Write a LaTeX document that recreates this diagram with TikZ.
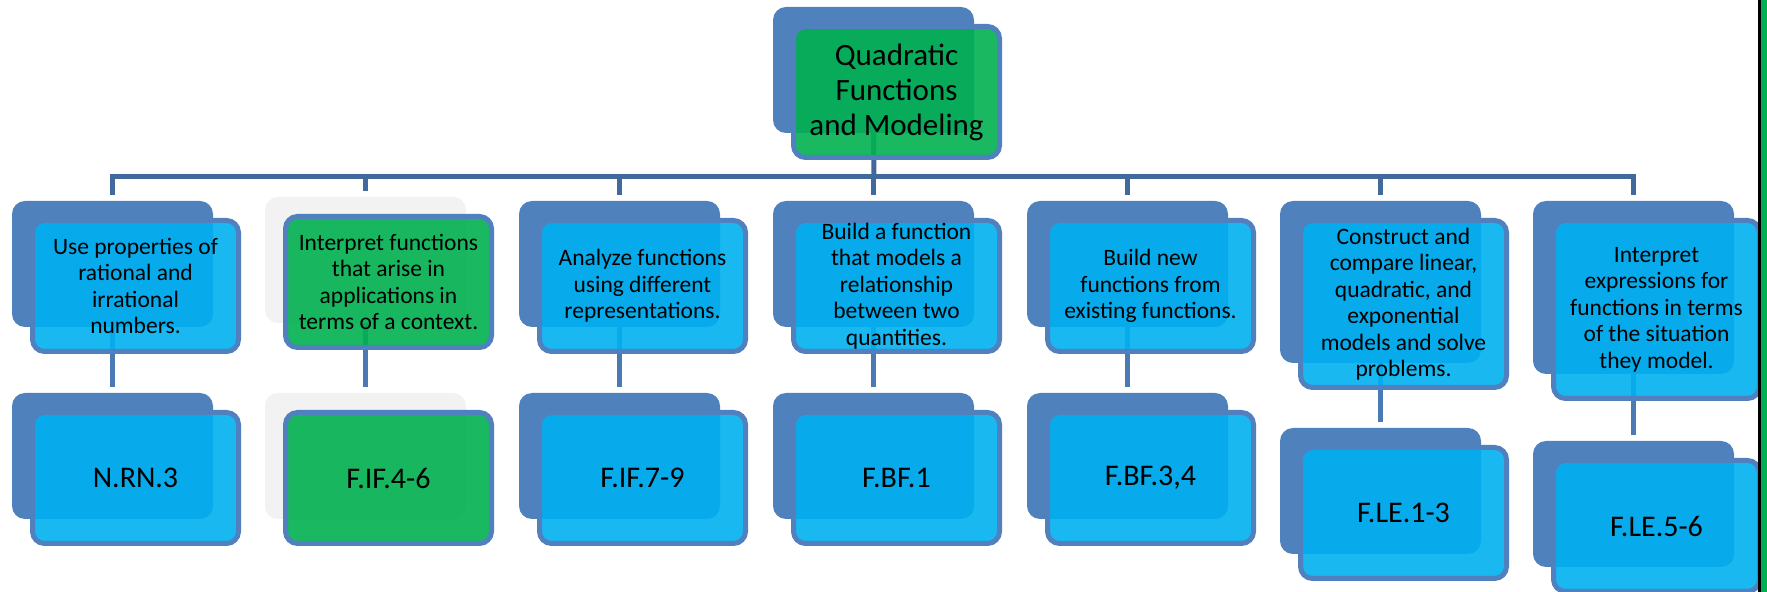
\documentclass[tikz,border=0pt]{standalone}
\usepackage{fontspec}
\setmainfont{Carlito}
\usetikzlibrary{positioning,backgrounds}

\definecolor{backblue}{HTML}{4F81BD}
\definecolor{cardblue}{HTML}{00B0F0}
\definecolor{cardgreen}{HTML}{00B050}
\definecolor{edgeblue}{HTML}{5080BE}
\definecolor{ghost}{HTML}{F2F2F2}
\definecolor{linkdark}{HTML}{41699C}
\definecolor{linklight}{HTML}{4A7AB5}

\tikzset{
  back/.style={fill=backblue, rounded corners=6.5pt, minimum width=100.5pt,
    minimum height=63pt, inner sep=0pt, outer sep=0pt, anchor=north west},
  ghostback/.style={back, fill=ghost},
  front/.style={fill=cardblue, fill opacity=0.9, text opacity=1, draw=edgeblue,
    line width=2.5pt, rounded corners=6pt, minimum width=103pt,
    minimum height=65.5pt, inner sep=0pt, align=center},
  greenfront/.style={front, fill=cardgreen},
  rowtext/.style={font=\fontsize{11.75}{13.25}\selectfont},
  codetext/.style={font=\fontsize{15}{17}\selectfont},
  titletext/.style={font=\fontsize{15.5}{17.5}\selectfont},
  link/.style={line width=2.5pt},
}

\begin{document}
\begin{tikzpicture}[x=0.5pt, y=-0.5pt]
\useasboundingbox (0,0) rectangle (1767,592);

% top card
\node[back] (top) at (773,7) {};
\node[greenfront, titletext, below right=8.5pt and 9pt of top.north west] (topf) {Quadratic\\Functions\\and Modeling};

% first row
\node[back] (c1) at (12,201) {};
\node[front, rowtext, below right=8.5pt and 9pt of c1.north west] (c1f) {Use properties of\\rational and\\irrational\\numbers.};
\node[ghostback] (c2) at (265,197) {};
\node[greenfront, rowtext, below right=8.5pt and 9pt of c2.north west] (c2f) {Interpret functions\\that arise in\\applications in\\terms of a context.};
\node[back] (c3) at (519,201) {};
\node[front, rowtext, below right=8.5pt and 9pt of c3.north west] (c3f) {Analyze functions\\using different\\representations.};
\node[back] (c4) at (773,201) {};
\node[front, rowtext, below right=8.5pt and 9pt of c4.north west] (c4f) {Build a function\\that models a\\relationship\\between two\\quantities.};
\node[back] (c5) at (1027,201) {};
\node[front, rowtext, below right=8.5pt and 9pt of c5.north west] (c5f) {Build new\\functions from\\existing functions.};
\node[back, minimum height=81pt] (c6) at (1280,201) {};
\node[front, rowtext, minimum height=83.5pt, below right=8.5pt and 9pt of c6.north west] (c6f) {Construct and\\compare linear,\\quadratic, and\\exponential\\models and solve\\problems.};
\node[back, minimum height=86.5pt] (c7) at (1533,201) {};
\node[front, rowtext, minimum height=89pt, below right=8.5pt and 9pt of c7.north west] (c7f) {Interpret\\expressions for\\functions in terms\\of the situation\\they model.};

% second row
\node[back] (g1) at (12,393) {};
\node[front, codetext, below right=8.5pt and 9pt of g1.north west] (g1f) {N.RN.3};
\node[ghostback] (g2) at (265,393) {};
\node[greenfront, codetext, below right=8.5pt and 9pt of g2.north west] (g2f) {F.IF.4-6};
\node[back] (g3) at (519,393) {};
\node[front, codetext, below right=8.5pt and 9pt of g3.north west] (g3f) {F.IF.7-9};
\node[back] (g4) at (773,393) {};
\node[front, codetext, below right=8.5pt and 9pt of g4.north west] (g4f) {F.BF.1};
\node[back] (g5) at (1027,393) {};
\node[front, codetext, below right=8.5pt and 9pt of g5.north west] (g5f) {F.BF.3,4};
\node[back] (g6) at (1280,428) {};
\node[front, codetext, below right=8.5pt and 9pt of g6.north west] (g6f) {F.LE.1-3};
\node[back] (g7) at (1533,441) {};
\node[front, codetext, below right=8.5pt and 9pt of g7.north west] (g7f) {F.LE.5-6};

% connectors, behind the cards
\begin{scope}[on background layer]
\coordinate (bus) at (874,177);
\draw[link, linkdark] (top.south) -- (bus);
\draw[link, linkdark, line cap=rect] (bus -| c1.north) -- (bus -| c7.north);
\draw[link, linkdark] (bus -| c1.north) -- ([yshift=3pt]c1.north);
\draw[link, linkdark] (bus -| c2.north) -- ([yshift=3pt]c2.north);
\draw[link, linkdark] (bus -| c3.north) -- ([yshift=3pt]c3.north);
\draw[link, linkdark] (bus -| c4.north) -- ([yshift=3pt]c4.north);
\draw[link, linkdark] (bus -| c5.north) -- ([yshift=3pt]c5.north);
\draw[link, linkdark] (bus -| c6.north) -- ([yshift=3pt]c6.north);
\draw[link, linkdark] (bus -| c7.north) -- ([yshift=3pt]c7.north);
\draw[link, linklight] (c1.south) -- ([yshift=3pt]g1.north);
\draw[link, linklight] (c2.south) -- ([yshift=3pt]g2.north);
\draw[link, linklight] (c3.south) -- ([yshift=3pt]g3.north);
\draw[link, linklight] (c4.south) -- ([yshift=3pt]g4.north);
\draw[link, linklight] (c5.south) -- ([yshift=3pt]g5.north);
\draw[link, linklight] (c6.south) -- ([yshift=3pt]g6.north);
\draw[link, linklight] (c7.south) -- ([yshift=3pt]g7.north);
\end{scope}

% strip at the right edge
\fill[black] (1758,0) rectangle (1761,592);
\fill[cardgreen] (1761,0) rectangle (1767,592);
\end{tikzpicture}
\end{document}
